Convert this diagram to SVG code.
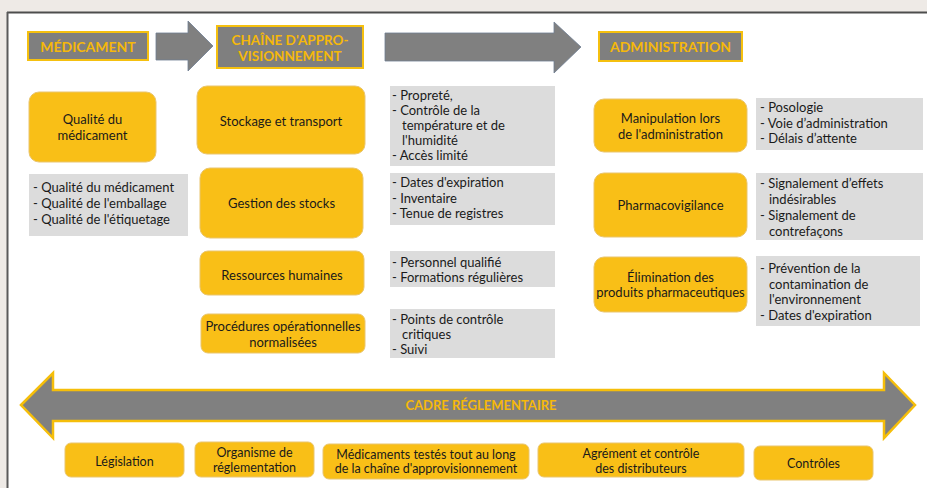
<svg xmlns="http://www.w3.org/2000/svg" width="927" height="488" viewBox="0 0 927 488">
<style>
.hdr{fill:#7f7f7f;stroke:#F5C00F;stroke-width:2}
.hdrt{font-family:Lato,"Liberation Sans",sans-serif;font-weight:bold;font-size:14px;fill:#F5B80A;text-anchor:middle;dominant-baseline:central}
.arr{fill:#808080;stroke:#6f7d93;stroke-width:0.8}
.ob{fill:#F9BF17;stroke:#E9C56E;stroke-width:1}
.gb{fill:#DCDCDC}
.t{font-family:Lato,"Liberation Sans",sans-serif;font-size:13px;fill:#1a1a1a;dominant-baseline:central}
.c{text-anchor:middle}
.bt{font-family:Lato,"Liberation Sans",sans-serif;font-size:12.5px;fill:#1a1a1a;dominant-baseline:central;text-anchor:middle}
</style>
<rect x="0" y="0" width="927" height="488" fill="#EEEAE6"/>
<rect x="8" y="13" width="919" height="475" fill="#ffffff"/>
<line x1="7" y1="12.5" x2="927" y2="12.5" stroke="#4d4d4d" stroke-width="2"/>
<line x1="7.5" y1="12" x2="7.5" y2="488" stroke="#5a5a5a" stroke-width="2"/>

<g id="connectors">
<polygon class="arr" points="156,33 188,33 188,21 213,46 188,71 188,60 156,60"/>
<polygon class="arr" points="385,33 554,33 554,22 581,47 554,73 554,61 385,61"/>
</g>

<g id="h-medicament">
<rect class="hdr" x="28" y="32" width="120" height="28"/>
<text class="hdrt" x="88" y="46">MÉDICAMENT</text>
</g>
<g id="h-chaine">
<rect class="hdr" x="217" y="26" width="146" height="42"/>
<text class="hdrt" x="290" y="39.5" style="font-size:13.5px">CHAÎNE D'APPRO-</text>
<text class="hdrt" x="290" y="55.5" style="font-size:13.5px">VISIONNEMENT</text>
</g>
<g id="h-administration">
<rect class="hdr" x="599" y="32" width="143" height="29"/>
<text class="hdrt" x="670.5" y="46.5">ADMINISTRATION</text>
</g>

<g id="qualite">
<rect class="ob" x="29" y="92" width="127" height="70" rx="10"/>
<text class="t c" x="92.5" y="119">Qualité du</text>
<text class="t c" x="92.5" y="135">médicament</text>
</g>
<g id="qualite-list">
<rect class="gb" x="29" y="174" width="159" height="62"/>
<text class="t" x="33" y="187">- Qualité du médicament</text>
<text class="t" x="33" y="203">- Qualité de l'emballage</text>
<text class="t" x="33" y="219">- Qualité de l'étiquetage</text>
</g>

<g id="stockage">
<rect class="ob" x="197" y="86" width="168" height="68" rx="10"/>
<text class="t c" x="281" y="121">Stockage et transport</text>
</g>
<g id="stockage-list">
<rect class="gb" x="390" y="86" width="165" height="80"/>
<text class="t" x="392" y="95">- Propreté,</text>
<text class="t" x="392" y="110">- Contrôle de la</text>
<text class="t" x="402" y="125">température et de</text>
<text class="t" x="402" y="140">l'humidité</text>
<text class="t" x="392" y="155">- Accès limité</text>
</g>

<g id="gestion">
<rect class="ob" x="200" y="168" width="163" height="70" rx="10"/>
<text class="t c" x="281.5" y="203">Gestion des stocks</text>
</g>
<g id="gestion-list">
<rect class="gb" x="390" y="173" width="165" height="52"/>
<text class="t" x="392" y="182">- Dates d'expiration</text>
<text class="t" x="392" y="197.5">- Inventaire</text>
<text class="t" x="392" y="213">- Tenue de registres</text>
</g>

<g id="ressources">
<rect class="ob" x="200" y="251" width="164" height="44" rx="8"/>
<text class="t c" x="282" y="275">Ressources humaines</text>
</g>
<g id="ressources-list">
<rect class="gb" x="390" y="251" width="165" height="36"/>
<text class="t" x="392" y="262">- Personnel qualifié</text>
<text class="t" x="392" y="277">- Formations régulières</text>
</g>

<g id="procedures">
<rect class="ob" x="201" y="314" width="164" height="39" rx="7"/>
<text class="t c" x="283" y="326">Procédures opérationnelles</text>
<text class="t c" x="283" y="341.5">normalisées</text>
</g>
<g id="procedures-list">
<rect class="gb" x="390" y="309" width="165" height="49"/>
<text class="t" x="392" y="319">- Points de contrôle</text>
<text class="t" x="402" y="334">critiques</text>
<text class="t" x="392" y="349">- Suivi</text>
</g>

<g id="manipulation">
<rect class="ob" x="594" y="99" width="153" height="53" rx="10"/>
<text class="t c" x="670.5" y="118">Manipulation lors</text>
<text class="t c" x="670.5" y="134">de l'administration</text>
</g>
<g id="manipulation-list">
<rect class="gb" x="756" y="98" width="167" height="52"/>
<text class="t" x="760" y="107">- Posologie</text>
<text class="t" x="760" y="123">- Voie d’administration</text>
<text class="t" x="760" y="138">- Délais d’attente</text>
</g>

<g id="pharmacovigilance">
<rect class="ob" x="594" y="173" width="153" height="64" rx="10"/>
<text class="t c" x="670.5" y="205">Pharmacovigilance</text>
</g>
<g id="pharmacovigilance-list">
<rect class="gb" x="756" y="173" width="167" height="67"/>
<text class="t" x="760" y="183">- Signalement d’effets</text>
<text class="t" x="769" y="198.5">indésirables</text>
<text class="t" x="760" y="215">- Signalement de</text>
<text class="t" x="769" y="231">contrefaçons</text>
</g>

<g id="elimination">
<rect class="ob" x="594" y="257" width="153" height="55" rx="10"/>
<text class="t c" x="670.5" y="277">Élimination des</text>
<text class="t c" x="670.5" y="292">produits pharmaceutiques</text>
</g>
<g id="elimination-list">
<rect class="gb" x="756" y="256" width="164" height="70"/>
<text class="t" x="760" y="268">- Prévention de la</text>
<text class="t" x="769" y="283.5">contamination de</text>
<text class="t" x="769" y="299">l'environnement</text>
<text class="t" x="760" y="315">- Dates d'expiration</text>
</g>

<g id="cadre">
<polygon points="21,405 53,373 53,390 884,390 884,373 915,405 884,438 884,421 53,421 53,438" fill="#808080" stroke="#F5BE0A" stroke-width="2.5" stroke-linejoin="miter"/>
<text class="hdrt" x="481" y="405" style="font-size:13px">CADRE RÉGLEMENTAIRE</text>
</g>

<g id="legislation">
<rect class="ob" x="65" y="443" width="119" height="34" rx="6"/>
<text class="bt" x="124.5" y="461">Législation</text>
</g>
<g id="organisme">
<rect class="ob" x="195" y="442" width="119" height="35" rx="6"/>
<text class="bt" x="254.5" y="452">Organisme de</text>
<text class="bt" x="254.5" y="467">réglementation</text>
</g>
<g id="medicaments-testes">
<rect class="ob" x="323" y="444" width="206" height="35" rx="6"/>
<text class="bt" x="426" y="454">Médicaments testés tout au long</text>
<text class="bt" x="426" y="468.5">de la chaîne d'approvisionnement</text>
</g>
<g id="agrement">
<rect class="ob" x="538" y="443" width="206" height="34" rx="6"/>
<text class="bt" x="641" y="453">Agrément et contrôle</text>
<text class="bt" x="641" y="468">des distributeurs</text>
</g>
<g id="controles">
<rect class="ob" x="754" y="446" width="119" height="34" rx="6"/>
<text class="bt" x="813.5" y="463">Contrôles</text>
</g>
</svg>
